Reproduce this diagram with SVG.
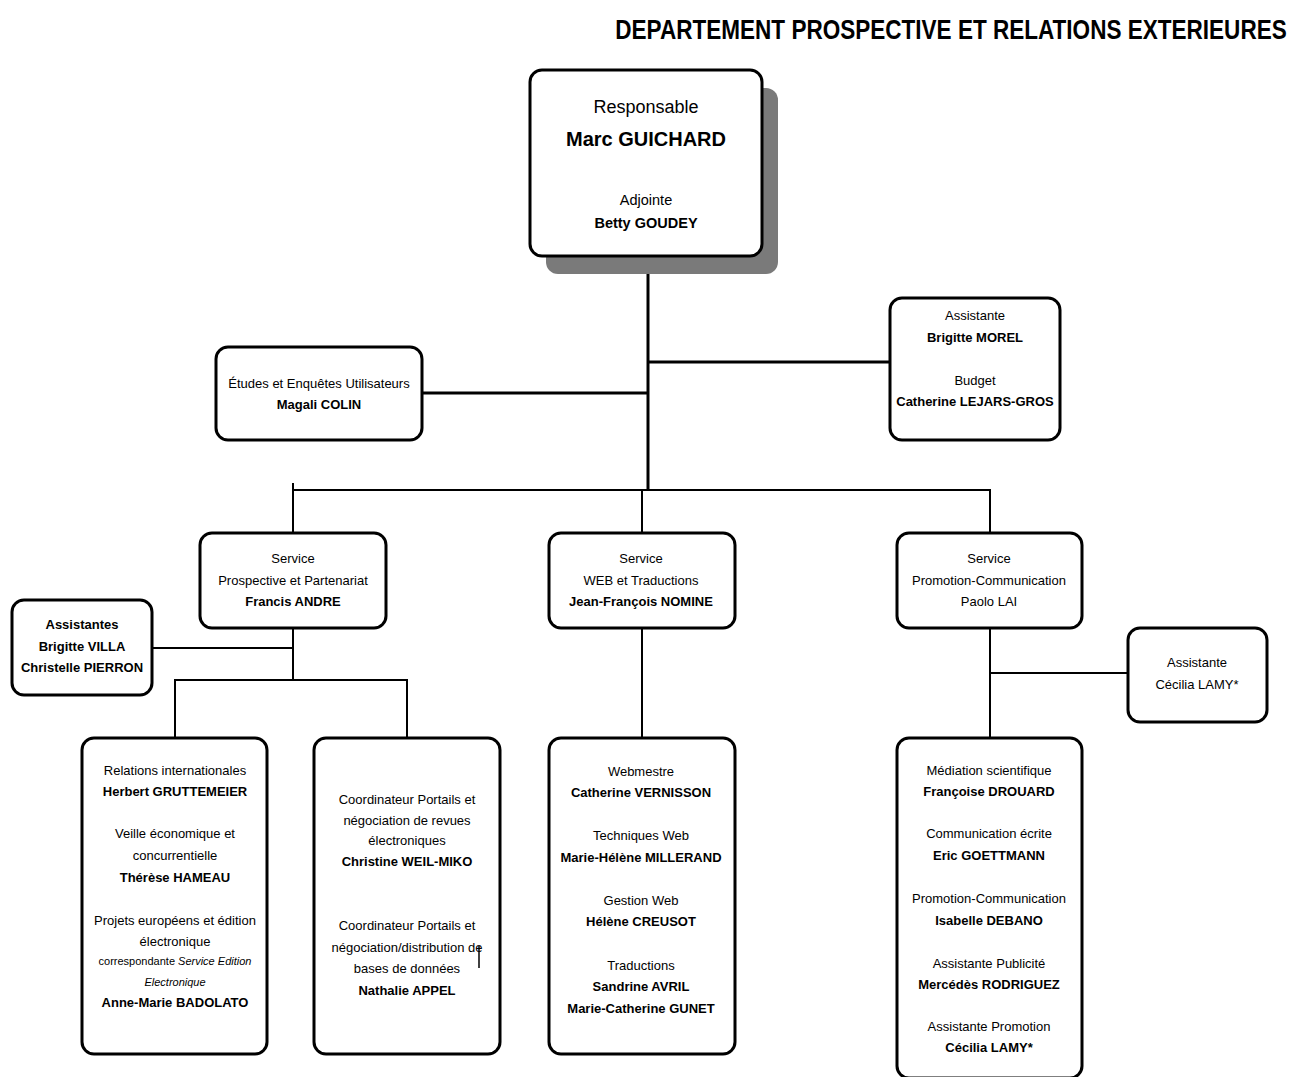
<svg xmlns="http://www.w3.org/2000/svg" width="1298" height="1077" viewBox="0 0 1298 1077">
<style>
text{font-family:"Liberation Sans",Arial,sans-serif;fill:#000;text-anchor:middle;font-size:13px}
.b{font-weight:bold}
.i{font-style:italic}
.s{font-size:11px}
.box{fill:#fff;stroke:#000;stroke-width:3}
.thick{stroke:#000;stroke-width:3;fill:none}
.thin{stroke:#000;stroke-width:2;fill:none}
</style>
<rect width="1298" height="1077" fill="#fff"/>
<text transform="translate(951,39) scale(0.805,1)" x="0" y="0" class="b" style="font-size:28px">DEPARTEMENT PROSPECTIVE ET RELATIONS EXTERIEURES</text>

<g id="connectors">
<line class="thick" x1="648" y1="256" x2="648" y2="491"/>
<line class="thick" x1="422" y1="393" x2="648" y2="393"/>
<line class="thick" x1="648" y1="362" x2="890" y2="362"/>
<polyline class="thin" points="293,533 293,490 990,490 990,533"/>
<line class="thin" x1="293" y1="483" x2="293" y2="490"/>
<line class="thin" x1="642" y1="490" x2="642" y2="533"/>
<line class="thin" x1="293" y1="628" x2="293" y2="680"/>
<line class="thin" x1="152" y1="648" x2="293" y2="648"/>
<polyline class="thin" points="175,738 175,680 407,680 407,738"/>
<line class="thin" x1="642" y1="628" x2="642" y2="738"/>
<line class="thin" x1="990" y1="628" x2="990" y2="738"/>
<line class="thin" x1="990" y1="673" x2="1128" y2="673"/>
</g>

<g id="responsable">
<rect x="546" y="88" width="232" height="186" rx="12" fill="#7a7a7a"/>
<rect class="box" x="530" y="70" width="232" height="186" rx="12"/>
<text x="646" y="113" style="font-size:18px">Responsable</text>
<text x="646" y="146" class="b" style="font-size:20px">Marc GUICHARD</text>
<text x="646" y="205" style="font-size:14.5px">Adjointe</text>
<text x="646" y="228" class="b" style="font-size:14.5px">Betty GOUDEY</text>
</g>

<g id="etudes">
<rect class="box" x="216" y="347" width="206" height="93" rx="12"/>
<text x="319" y="388">Études et Enquêtes Utilisateurs</text>
<text x="319" y="409" class="b">Magali COLIN</text>
</g>

<g id="assistante-budget">
<rect class="box" x="890" y="298" width="170" height="142" rx="12"/>
<text x="975" y="320">Assistante</text>
<text x="975" y="342" class="b">Brigitte MOREL</text>
<text x="975" y="385">Budget</text>
<text x="975" y="406" class="b">Catherine LEJARS-GROS</text>
</g>

<g id="service-prospective">
<rect class="box" x="200" y="533" width="186" height="95" rx="12"/>
<text x="293" y="563">Service</text>
<text x="293" y="585">Prospective et Partenariat</text>
<text x="293" y="606" class="b">Francis ANDRE</text>
</g>

<g id="service-web">
<rect class="box" x="549" y="533" width="186" height="95" rx="12"/>
<text x="641" y="563">Service</text>
<text x="641" y="585">WEB et Traductions</text>
<text x="641" y="606" class="b">Jean-François NOMINE</text>
</g>

<g id="service-promotion">
<rect class="box" x="897" y="533" width="185" height="95" rx="12"/>
<text x="989" y="563">Service</text>
<text x="989" y="585">Promotion-Communication</text>
<text x="989" y="606">Paolo LAI</text>
</g>

<g id="assistantes">
<rect class="box" x="12" y="600" width="140" height="95" rx="12"/>
<text x="82" y="629" class="b">Assistantes</text>
<text x="82" y="651" class="b">Brigitte VILLA</text>
<text x="82" y="672" class="b">Christelle PIERRON</text>
</g>

<g id="assistante-lamy">
<rect class="box" x="1128" y="628" width="139" height="94" rx="12"/>
<text x="1197" y="667">Assistante</text>
<text x="1197" y="689">Cécilia LAMY*</text>
</g>

<g id="relations">
<rect class="box" x="82" y="738" width="185" height="316" rx="12"/>
<text x="175" y="775">Relations internationales</text>
<text x="175" y="796" class="b">Herbert GRUTTEMEIER</text>
<text x="175" y="838">Veille économique et</text>
<text x="175" y="860">concurrentielle</text>
<text x="175" y="882" class="b">Thérèse HAMEAU</text>
<text x="175" y="925">Projets européens et édition</text>
<text x="175" y="946">électronique</text>
<text x="175" y="965" class="s">correspondante <tspan class="i">Service Edition</tspan></text>
<text x="175" y="986" class="s i">Electronique</text>
<text x="175" y="1007" class="b">Anne-Marie BADOLATO</text>
</g>

<g id="coordinateurs">
<rect class="box" x="314" y="738" width="186" height="316" rx="12"/>
<text x="407" y="804">Coordinateur Portails et</text>
<text x="407" y="825">négociation de revues</text>
<text x="407" y="845">électroniques</text>
<text x="407" y="866" class="b">Christine WEIL-MIKO</text>
<text x="407" y="930">Coordinateur Portails et</text>
<text x="407" y="952">négociation/distribution de</text>
<text x="407" y="973">bases de données</text>
<text x="407" y="995" class="b">Nathalie APPEL</text>
<line x1="479" y1="946" x2="479" y2="968" stroke="#000" stroke-width="1.5"/>
</g>

<g id="web-team">
<rect class="box" x="549" y="738" width="186" height="316" rx="12"/>
<text x="641" y="776">Webmestre</text>
<text x="641" y="797" class="b">Catherine VERNISSON</text>
<text x="641" y="840">Techniques Web</text>
<text x="641" y="862" class="b">Marie-Hélène MILLERAND</text>
<text x="641" y="905">Gestion Web</text>
<text x="641" y="926" class="b">Hélène CREUSOT</text>
<text x="641" y="970">Traductions</text>
<text x="641" y="991" class="b">Sandrine AVRIL</text>
<text x="641" y="1013" class="b">Marie-Catherine GUNET</text>
</g>

<g id="promotion-team">
<rect class="box" x="897" y="738" width="185" height="340" rx="12"/>
<text x="989" y="775">Médiation scientifique</text>
<text x="989" y="796" class="b">Françoise DROUARD</text>
<text x="989" y="838">Communication écrite</text>
<text x="989" y="860" class="b">Eric GOETTMANN</text>
<text x="989" y="903">Promotion-Communication</text>
<text x="989" y="925" class="b">Isabelle DEBANO</text>
<text x="989" y="968">Assistante Publicité</text>
<text x="989" y="989" class="b">Mercédès RODRIGUEZ</text>
<text x="989" y="1031">Assistante Promotion</text>
<text x="989" y="1052" class="b">Cécilia LAMY*</text>
</g>
</svg>
